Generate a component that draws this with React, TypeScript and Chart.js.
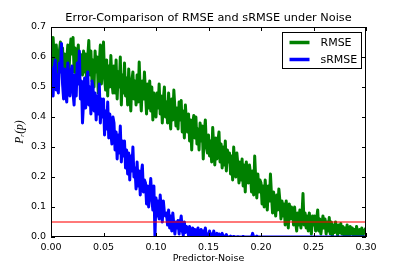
import React, { useEffect, useRef } from "react";
import { Chart, registerables } from "chart.js";

Chart.register(...registerables);

const TITLE = "Error-Comparison of RMSE and sRMSE under Noise";
const X_LABEL = "Predictor-Noise";
const Y_LABEL = "Pᵣ(p)";
const SERIES_LABELS = ["RMSE", "sRMSE"];

// predictor-noise grid: 0.000, 0.001, ... 0.300
const NOISE_STEP = 0.001;

const RMSE = [
  0.63, 0.56, 0.665, 0.6, 0.53, 0.64, 0.58, 0.5, 0.62, 0.65,
  0.57, 0.63, 0.53, 0.61, 0.47, 0.59, 0.64, 0.54, 0.62, 0.66,
  0.61, 0.665, 0.55, 0.63, 0.51, 0.59, 0.64, 0.53, 0.61, 0.56,
  0.54, 0.62, 0.55, 0.61, 0.5, 0.6, 0.655, 0.54, 0.62, 0.52,
  0.59, 0.5, 0.62, 0.55, 0.6, 0.48, 0.58, 0.64, 0.51, 0.59,
  0.65, 0.53, 0.49, 0.59, 0.47, 0.57, 0.5, 0.605, 0.52, 0.48,
  0.57, 0.48, 0.59, 0.46, 0.55, 0.5, 0.6, 0.44, 0.54, 0.48,
  0.58, 0.47, 0.53, 0.44, 0.56, 0.49, 0.42, 0.52, 0.55, 0.46,
  0.52, 0.44, 0.54, 0.45, 0.583, 0.48, 0.42, 0.52, 0.46, 0.55,
  0.48, 0.41, 0.51, 0.43, 0.52, 0.42, 0.5, 0.39, 0.48, 0.44,
  0.4, 0.48, 0.43, 0.51, 0.41, 0.47, 0.38, 0.46, 0.5, 0.4,
  0.45, 0.38, 0.48, 0.41, 0.36, 0.46, 0.39, 0.49, 0.43, 0.37,
  0.43, 0.36, 0.45, 0.39, 0.455, 0.35, 0.42, 0.33, 0.44, 0.38,
  0.35, 0.41, 0.32, 0.39, 0.29, 0.38, 0.405, 0.33, 0.4, 0.31,
  0.36, 0.29, 0.38, 0.32, 0.37, 0.26, 0.35, 0.39, 0.3, 0.28,
  0.34, 0.27, 0.32, 0.25, 0.365, 0.3, 0.24, 0.33, 0.26, 0.32,
  0.35, 0.25, 0.31, 0.23, 0.3, 0.24, 0.32, 0.22, 0.29, 0.25,
  0.28, 0.21, 0.27, 0.19, 0.3, 0.23, 0.2, 0.28, 0.24, 0.18,
  0.25, 0.19, 0.26, 0.17, 0.24, 0.15, 0.25, 0.21, 0.18, 0.24,
  0.21, 0.15, 0.22, 0.14, 0.27, 0.19, 0.13, 0.21, 0.15, 0.19,
  0.18, 0.11, 0.17, 0.1, 0.19, 0.13, 0.09, 0.17, 0.12, 0.21,
  0.14, 0.08, 0.15, 0.1, 0.07, 0.14, 0.09, 0.16, 0.12, 0.06,
  0.12, 0.07, 0.11, 0.04, 0.12, 0.08, 0.03, 0.11, 0.06, 0.1,
  0.09, 0.04, 0.1, 0.05, 0.02, 0.08, 0.04, 0.09, 0.03, 0.07,
  0.145, 0.04, 0.08, 0.03, 0.07, 0.02, 0.08, 0.04, 0.01, 0.07,
  0.04, 0.07, 0.02, 0.06, 0.09, 0.02, 0.06, 0.01, 0.04, 0.07,
  0.03, 0.06, 0.01, 0.05, 0.02, 0.065, 0.01, 0.05, 0.005, 0.04,
  0.015, 0.05, 0.03, 0.005, 0.04, 0.015, 0.045, 0.01, 0.035, 0.005,
  0.03, 0.005, 0.04, 0.02, 0.0, 0.035, 0.01, 0.03, 0.005, 0.025,
  0.005, 0.035, 0.015, 0.0, 0.025, 0.005, 0.03, 0.0, 0.02, 0.025,
  0.03,
];

const SRMSE = [
  0.57, 0.5, 0.47, 0.56, 0.59, 0.49, 0.54, 0.48, 0.58, 0.55,
  0.645, 0.51, 0.46, 0.56, 0.48, 0.45, 0.58, 0.53, 0.47, 0.55,
  0.57, 0.48, 0.44, 0.54, 0.47, 0.58, 0.51, 0.62, 0.46, 0.52,
  0.38, 0.45, 0.53, 0.43, 0.51, 0.55, 0.44, 0.5, 0.41, 0.52,
  0.5, 0.42, 0.48, 0.39, 0.47, 0.41, 0.51, 0.38, 0.46, 0.4,
  0.46, 0.34, 0.42, 0.36, 0.45, 0.33, 0.41, 0.35, 0.31, 0.4,
  0.38, 0.29, 0.35, 0.26, 0.34, 0.28, 0.37, 0.25, 0.32, 0.27,
  0.32, 0.23, 0.29, 0.21, 0.28, 0.19, 0.27, 0.22, 0.3, 0.2,
  0.23, 0.16, 0.25, 0.17, 0.22, 0.14, 0.21, 0.24, 0.15, 0.19,
  0.18, 0.11, 0.17, 0.1, 0.15, 0.195, 0.13, 0.09, 0.17, 0.0,
  0.13, 0.07, 0.12, 0.06, 0.14, 0.09, 0.05, 0.12, 0.08, 0.07,
  0.08, 0.04, 0.09, 0.03, 0.07, 0.02, 0.08, 0.04, 0.01, 0.05,
  0.03, 0.055, 0.01, 0.045, 0.07, 0.02, 0.005, 0.05, 0.015, 0.035,
  0.025, 0.005, 0.035, 0.01, 0.0, 0.03, 0.005, 0.025, 0.0, 0.02,
  0.03, 0.005, 0.0, 0.025, 0.0, 0.02, 0.005, 0.03, 0.0, 0.01,
  0.005, 0.02, 0.0, 0.01, 0.0, 0.02, 0.0, 0.005, 0.012, 0.0,
  0.01, 0.0, 0.005, 0.012, 0.0, 0.003, 0.0, 0.008, 0.0, 0.0,
  0.0, 0.003, 0.0, 0.0, 0.002, 0.0, 0.0, 0.0, 0.001, 0.0,
  0.0, 0.0, 0.0, 0.002, 0.0, 0.0, 0.0, 0.0, 0.0, 0.0,
  0.0, 0.0, 0.012, 0.0, 0.0, 0.0, 0.003, 0.0, 0.0, 0.0,
  0, 0, 0, 0, 0, 0, 0, 0, 0, 0,
  0, 0, 0, 0, 0, 0, 0, 0, 0, 0,
  0, 0, 0, 0, 0, 0, 0, 0, 0, 0,
  0, 0, 0, 0, 0, 0, 0, 0, 0, 0,
  0, 0, 0, 0, 0, 0, 0, 0, 0, 0,
  0, 0, 0, 0, 0, 0, 0, 0, 0, 0,
  0, 0, 0, 0, 0, 0, 0, 0, 0, 0,
  0, 0, 0, 0, 0, 0, 0, 0, 0, 0,
  0, 0, 0, 0, 0, 0, 0, 0, 0, 0,
  0, 0, 0, 0, 0, 0, 0, 0, 0, 0,
  0,
];

const THRESHOLD = 0.05;
const X_RANGE = [0, 0.3];
const Y_RANGE = [0, 0.7];

const X_TICKS = [0, 0.05, 0.1, 0.15, 0.2, 0.25, 0.3];
const X_TICK_LABELS = ["0.00", "0.05", "0.10", "0.15", "0.20", "0.25", "0.30"];
const Y_TICKS = [0, 0.1, 0.2, 0.3, 0.4, 0.5, 0.6, 0.7];
const Y_TICK_LABELS = ["0.0", "0.1", "0.2", "0.3", "0.4", "0.5", "0.6", "0.7"];

const FONT = "'DejaVu Sans', sans-serif";

const toPoints = (arr: number[]) =>
  arr.map((y, i) => ({ x: i * NOISE_STEP, y }));

const framePlugin = {
  id: "mplFrame",
  afterDraw(chart: any) {
    const { ctx, chartArea: a, scales } = chart;
    ctx.save();

    // title centred over the axes
    ctx.fillStyle = "#000";
    ctx.font = `11.3px ${FONT}`;
    ctx.textAlign = "center";
    ctx.textBaseline = "middle";
    ctx.fillText(TITLE, (a.left + a.right) / 2, 18.5);

    ctx.strokeStyle = "#000";
    ctx.lineWidth = 1;
    ctx.beginPath();
    const L = 4;
    for (const v of X_TICKS) {
      const x = Math.round(scales.x.getPixelForValue(v)) + 0.5;
      ctx.moveTo(x, a.bottom);
      ctx.lineTo(x, a.bottom - L);
      ctx.moveTo(x, a.top);
      ctx.lineTo(x, a.top + L);
    }
    for (const v of Y_TICKS) {
      const y = Math.round(scales.y.getPixelForValue(v)) + 0.5;
      ctx.moveTo(a.left, y);
      ctx.lineTo(a.left + L, y);
      ctx.moveTo(a.right, y);
      ctx.lineTo(a.right - L, y);
    }
    ctx.stroke();
    const l = Math.round(a.left) + 0.5;
    const t = Math.round(a.top) + 0.5;
    const r = Math.round(a.right) - 0.5;
    const b = Math.round(a.bottom) - 0.5;
    ctx.strokeRect(l, t, r - l, b - t);

    // legend
    const items = chart.data.datasets.filter((d: any) => SERIES_LABELS.includes(d.label));
    const bw = 79;
    const bh = 36;
    const bx = Math.round(a.right - 5 - bw) + 0.5;
    const by = Math.round(a.top + 5) + 0.5;
    ctx.fillStyle = "#fff";
    ctx.fillRect(bx, by, bw, bh);
    ctx.strokeStyle = "#000";
    ctx.lineWidth = 1;
    ctx.strokeRect(bx, by, bw, bh);
    ctx.font = `11px ${FONT}`;
    ctx.textBaseline = "middle";
    ctx.textAlign = "left";
    items.forEach((d: any, i: number) => {
      const y = by + 10 + i * 17;
      ctx.strokeStyle = d.borderColor;
      ctx.lineWidth = 3.5;
      ctx.beginPath();
      ctx.moveTo(bx + 7, y);
      ctx.lineTo(bx + 27, y);
      ctx.stroke();
      ctx.fillStyle = "#000";
      ctx.fillText(d.label, bx + 38, y + 0.5);
    });
    ctx.restore();
  },
};

export default function App() {
  const ref = useRef<HTMLCanvasElement | null>(null);

  useEffect(() => {
    if (!ref.current) return;
    const chart = new Chart(ref.current, {
      type: "line",
      data: {
        datasets: [
          {
            label: SERIES_LABELS[0],
            data: toPoints(RMSE),
            borderColor: "#008000",
            borderWidth: 3,
            pointRadius: 0,
            tension: 0,
            fill: false,
            clip: 0,
            order: 2,
            borderJoinStyle: "round",
          } as any,
          {
            label: SERIES_LABELS[1],
            data: toPoints(SRMSE),
            borderColor: "#0000ff",
            borderWidth: 3,
            pointRadius: 0,
            tension: 0,
            fill: false,
            clip: 0,
            order: 1,
            borderJoinStyle: "round",
          } as any,
          {
            label: "threshold",
            data: [
              { x: X_RANGE[0], y: THRESHOLD },
              { x: X_RANGE[1], y: THRESHOLD },
            ],
            borderColor: "rgba(255,0,0,0.7)",
            borderWidth: 1.5,
            pointRadius: 0,
            fill: false,
            clip: 0,
            order: 0,
          } as any,
        ],
      },
      options: {
        responsive: false,
        animation: false,
        layout: { padding: { left: 0, right: 41, top: 27, bottom: 0 } },
        plugins: {
          legend: { display: false },
          tooltip: { enabled: false },
          title: { display: false },
        },
        scales: {
          x: {
            type: "linear",
            min: X_RANGE[0],
            max: X_RANGE[1],
            afterFit: (s: any) => {
              s.height = 34;
            },
            afterBuildTicks: (s: any) => {
              s.ticks = X_TICKS.map((value) => ({ value }));
            },
            grid: { display: false, drawTicks: false },
            border: { display: false },
            ticks: {
              autoSkip: false,
              maxRotation: 0,
              color: "#000",
              padding: 5,
              font: { family: FONT, size: 9.5 },
              callback: (v: any) => X_TICK_LABELS[X_TICKS.indexOf(Number(v))] ?? "",
            },
            title: {
              display: true,
              text: X_LABEL,
              color: "#000",
              font: { family: FONT, size: 9.5 },
              padding: { top: 0, bottom: 6.5 },
            },
          },
          y: {
            type: "linear",
            min: Y_RANGE[0],
            max: Y_RANGE[1],
            afterFit: (s: any) => {
              s.width = 51;
            },
            afterBuildTicks: (s: any) => {
              s.ticks = Y_TICKS.map((value) => ({ value }));
            },
            grid: { display: false, drawTicks: false },
            border: { display: false },
            ticks: {
              autoSkip: false,
              color: "#000",
              padding: 5,
              font: { family: FONT, size: 9.5 },
              callback: (v: any) => Y_TICK_LABELS[Y_TICKS.indexOf(Number(v))] ?? "",
            },
            title: {
              display: true,
              text: Y_LABEL,
              color: "#000",
              font: { family: "'Liberation Serif', serif", size: 11.5, style: "italic" },
              padding: { top: 13.1, bottom: 0 },
            },
          },
        },
      },
      plugins: [framePlugin],
    });
    return () => chart.destroy();
  }, []);

  return (
    <div style={{ position: "absolute", left: 0, top: 0, width: 407, height: 271, background: "#fff" }}>
      <canvas ref={ref} width={407} height={271} style={{ display: "block" }} />
    </div>
  );
}
